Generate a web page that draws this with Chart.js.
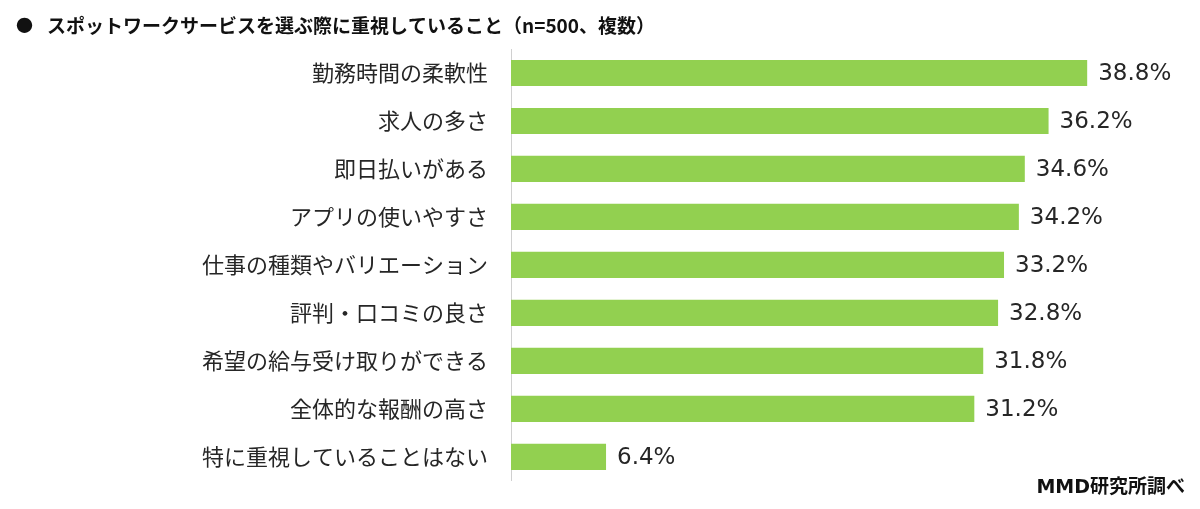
<!DOCTYPE html>
<html>
<head>
<meta charset="utf-8">
<script src="https://cdn.jsdelivr.net/npm/chart.js@4"></script>
<style>
  html, body { margin: 0; padding: 0; background: #fff; }
  canvas { display: block; }
</style>
</head>
<body>
<canvas id="chart" width="1200" height="509"></canvas>
<script>
// data
const categories = [
    '勤務時間の柔軟性',
    '求人の多さ',
    '即日払いがある',
    'アプリの使いやすさ',
    '仕事の種類やバリエーション',
    '評判・口コミの良さ',
    '希望の給与受け取りができる',
    '全体的な報酬の高さ',
    '特に重視していることはない'
];
const shares = [38.8, 36.2, 34.6, 34.2, 33.2, 32.8, 31.8, 31.2, 6.4];
const titleText = 'スポットワークサービスを選ぶ際に重視していること（n=500、複数）';
const sourceText = 'MMD研究所調べ';

const jpFont = '"Noto Sans CJK JP", "Noto Sans", sans-serif';

// value labels at the end of each bar
const valueLabels = {
    id: 'valueLabels',
    afterDatasetsDraw(chart) {
        const ctx = chart.ctx;
        const meta = chart.getDatasetMeta(0);
        ctx.save();
        ctx.font = '23px "DejaVu Sans", sans-serif';
        ctx.fillStyle = '#262626';
        ctx.textAlign = 'left';
        ctx.textBaseline = 'middle';
        meta.data.forEach((bar, i) => {
            ctx.fillText(shares[i].toFixed(1) + '%', bar.x + 11, bar.y + 1);
        });
        ctx.restore();
    }
};

// title line and source note
const textBits = {
    id: 'textBits',
    afterDraw(chart) {
        const ctx = chart.ctx;
        ctx.save();
        ctx.fillStyle = '#111';
        ctx.textBaseline = 'middle';
        ctx.font = 'bold 17px ' + jpFont;
        ctx.fillText('●', 16, 26);
        ctx.font = 'bold 19px ' + jpFont;
        ctx.fillText(titleText, 47, 26);
        ctx.textAlign = 'right';
        ctx.font = 'bold 19px "DejaVu Sans", ' + jpFont;
        ctx.fillText(sourceText, 1185, 488);
        ctx.restore();
    }
};

new Chart(document.getElementById('chart'), {
    type: 'bar',
    data: {
        labels: categories,
        datasets: [{
            data: shares,
            backgroundColor: '#92D050',
            borderWidth: 0,
            categoryPercentage: 1,
            barPercentage: 0.545
        }]
    },
    options: {
        indexAxis: 'y',
        responsive: false,
        animation: false,
        layout: { padding: { top: 49, bottom: 21, right: 95, left: 0 } },
        plugins: {
            legend: { display: false },
            tooltip: { enabled: false }
        },
        scales: {
            x: {
                display: false,
                min: 0,
                max: 40
            },
            y: {
                grid: { display: false },
                border: { display: true, color: '#d0d0d0', width: 1 },
                ticks: {
                    padding: 15,
                    color: '#262626',
                    font: { family: jpFont, size: 22 }
                },
                afterFit(scale) {
                    scale.width = 511;
                }
            }
        }
    },
    plugins: [valueLabels, textBits]
});
</script>
</body>
</html>
